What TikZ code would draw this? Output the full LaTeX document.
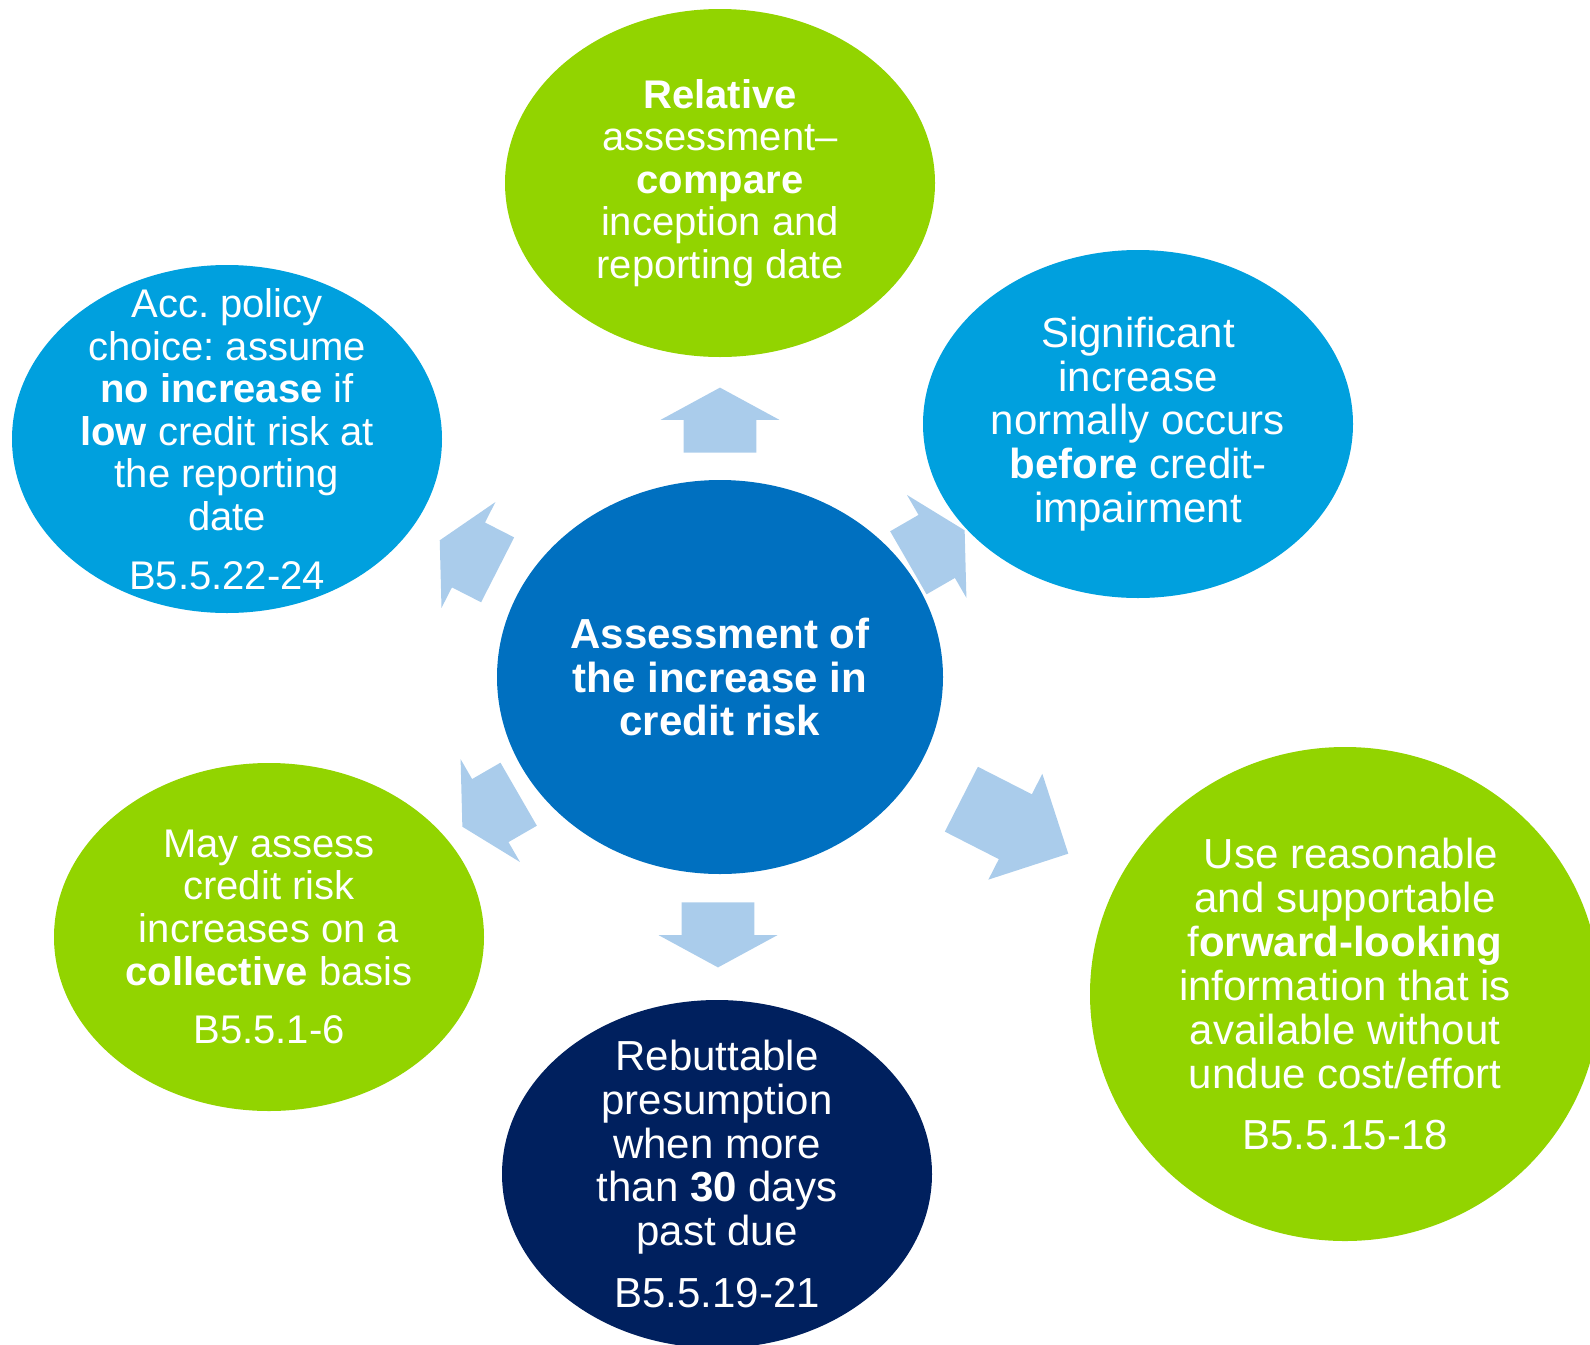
\documentclass[tikz,border=0pt]{standalone}
\usepackage{fontspec}
\setmainfont{Liberation Sans}
\frenchspacing
\usetikzlibrary{shapes.geometric,shapes.arrows}

\definecolor{kgreen}{RGB}{146,212,0}
\definecolor{kblue}{RGB}{0,160,222}
\definecolor{kmid}{RGB}{0,112,192}
\definecolor{knavy}{RGB}{0,32,94}
\definecolor{karrow}{RGB}{170,204,235}

\begin{document}
\begin{tikzpicture}[x=0.5pt, y=-0.5pt,
                    bubble/.style={ellipse, draw=none, inner sep=0pt,
                                   minimum width=215pt, minimum height=174pt},
                    txt/.style={text=white, align=center, inner sep=0pt},
                    small/.style={font=\fontsize{20pt}{21.3pt}\selectfont\frenchspacing},
                    large/.style={font=\fontsize{21pt}{21.9pt}\selectfont\frenchspacing},
                    blockarrow/.style={single arrow, fill=karrow, draw=none,
                                       inner xsep=0pt, inner ysep=18pt,
                                       single arrow head extend=11.5pt,
                                       single arrow tip angle=123,
                                       minimum height=32.5pt, anchor=tail}]
    \useasboundingbox (0,0) rectangle (1590,1344);

    % bubbles
    \node[bubble, fill=kmid, minimum width=223pt, minimum height=197pt] (ctr) at (720,677) {};
    \node[bubble, fill=kgreen] (rel) at (720,183) {};
    \node[bubble, fill=kblue]  (pol) at (227,439) {};
    \node[bubble, fill=kblue]  (sig) at (1138,424) {};
    \node[bubble, fill=kgreen] (col) at (269,937) {};
    \node[bubble, fill=knavy]  (reb) at (717,1174) {};
    \node[bubble, fill=kgreen, minimum width=255pt, minimum height=247pt] (fwd) at (1345,994) {};

    % texts
    \node[txt, font=\fontsize{21pt}{21.9pt}\selectfont\bfseries] (ctr-t) at (ctr)
        {Assessment of\\the increase in\\credit risk};
    \node[txt, small] (rel-t) at (rel)
        {\textbf{Relative}\\assessment–\\\textbf{compare}\\inception and\\reporting date};
    \node[txt, small] (pol-t) at (pol)
        {Acc. policy\\choice: assume\\\textbf{no increase} if\\\textbf{low} credit risk at\\the reporting\\date\\[8pt]B5.5.22-24};
    \node[txt, large] (sig-t) at (sig)
        {Significant\\increase\\normally occurs\\\textbf{before} credit-\\impairment};
    \node[txt, small] (col-t) at (col)
        {May assess\\credit risk\\increases on a\\\textbf{collective} basis\\[8pt]B5.5.1-6};
    \node[txt, large] (reb-t) at (reb)
        {Rebuttable\\presumption\\when more\\than \textbf{30} days\\past due\\[9pt]B5.5.19-21};
    \node[txt, font=\fontsize{21pt}{22pt}\selectfont] (fwd-t) at (fwd)
        {\hspace*{6pt}Use reasonable\\and supportable\\f\textbf{orward-looking}\\information that is\\available without\\undue cost/effort\\[8.5pt]B5.5.15-18};

    % block arrows
    \node[blockarrow, rotate=90]  (a-rel) at (720,453) {};
    \node[blockarrow, rotate=-90] (a-reb) at (718,902) {};
    \node[blockarrow, rotate=30]  (a-sig) at (908,563) {};
    \node[blockarrow, rotate=153] (a-pol) at (498,570) {};
    \node[blockarrow, rotate=210] (a-col) at (519,794) {};
    \node[blockarrow, rotate=-27, minimum height=60pt,
          single arrow tip angle=90] (a-fwd) at (961,799) {};
\end{tikzpicture}
\end{document}
